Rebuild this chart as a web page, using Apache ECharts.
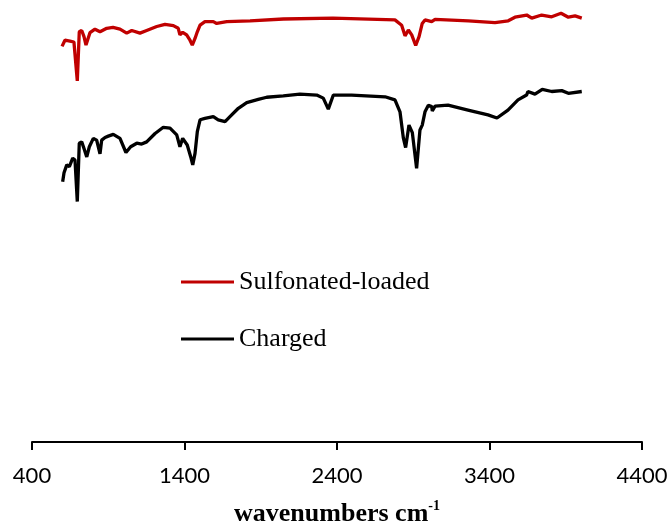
<!DOCTYPE html>
<html>
<head>
<meta charset="utf-8">
<script src="https://cdn.jsdelivr.net/npm/echarts@6/dist/echarts.min.js"></script>
<style>html,body{margin:0;padding:0;background:#fff;}#c{width:670px;height:525px;}</style>
</head>
<body>
<div id="c"></div>
<script>
// Wavenumber ticks
const tickLabels = [400, 1400, 2400, 3400, 4400];
const seriesNames = ['Sulfonated-loaded', 'Charged'];

// Sulfonated-loaded: [wavenumber cm-1, relative transmittance]
const sulfonatedWn = [597,616,649,675,697,710,726,741,754,765,780,813,846,890,931,977,1021,1054,1108,1152,1218,1272,1327,1359,1370,1388,1414,1436,1451,1469,1484,1502,1534,1589,1611,1677,1830,2048,2374,2387,2780,2824,2846,2868,2890,2916,2938,2959,2977,3021,3043,3261,3436,3523,3567,3644,3677,3742,3808,3869,3917,3961,4005];
const sulfonatedT = [89.5,90.9,90.7,90.5,81.7,92.8,93.1,91.7,89.8,90.0,92.6,93.4,92.8,93.6,93.8,93.4,92.5,93.1,92.5,93.1,94.0,94.5,94.2,93.6,92.1,92.7,92.1,90.9,89.8,91.3,92.8,94.3,95.1,95.1,94.7,95.1,95.3,95.7,95.9,95.6,95.5,94.3,91.9,93.2,92.1,89.7,91.7,94.7,95.5,95.1,95.6,95.3,94.9,95.3,96.1,96.6,95.9,96.6,96.2,97.0,96.1,96.4,95.9];

// Charged
const chargedWn = [601,610,628,645,667,682,697,710,726,741,759,776,802,824,846,857,879,900,933,977,1016,1047,1087,1119,1152,1207,1261,1305,1349,1370,1388,1418,1441,1454,1469,1484,1502,1534,1589,1621,1666,1698,1753,1808,1884,1939,2048,2157,2267,2310,2343,2376,2496,2715,2780,2813,2835,2850,2872,2894,2922,2944,2959,2977,2999,3021,3025,3043,3128,3259,3390,3449,3521,3587,3643,3652,3698,3746,3808,3874,3917,4005];
const chargedT = [58.9,60.9,62.7,62.3,64.2,63.8,54.4,67.6,67.9,66.4,64.5,66.8,68.7,68.3,65.2,68.3,68.9,69.2,69.6,68.7,65.5,66.8,67.6,67.4,67.9,69.8,71.2,71.0,69.5,66.8,68.7,67.2,64.5,62.7,65.3,70.2,72.9,73.2,73.6,72.9,72.5,73.6,75.5,76.8,77.5,78.0,78.3,78.7,78.5,77.8,75.3,78.5,78.5,78.1,77.4,74.7,68.8,66.6,71.7,70.0,61.9,70.6,71.7,74.7,76.2,75.9,74.9,76.0,76.2,75.1,74.0,73.3,75.1,77.4,78.5,79.3,78.7,79.8,79.3,79.5,78.9,79.3];

const zip = (a, b) => a.map((x, i) => [x, b[i]]);

const chart = echarts.init(document.getElementById('c'), null, {renderer: 'canvas'});
chart.setOption({
  animation: false,
  backgroundColor: '#ffffff',
  grid: {left: 32, right: 28, top: 0, bottom: 83, containLabel: false, outerBoundsMode: 'none'},
  legend: {
    orient: 'vertical',
    left: 176,
    top: 262,
    icon: 'rect',
    itemWidth: 53,
    itemHeight: 3,
    itemGap: 27,
    data: seriesNames,
    textStyle: {fontFamily: '"Liberation Serif", "Times New Roman", serif', fontSize: 26, color: '#000', lineHeight: 30}
  },
  xAxis: {
    type: 'value',
    min: 400,
    max: 4400,
    position: 'bottom',
    name: '{a|wavenumbers cm}{b|-1}',
    nameLocation: 'middle',
    nameGap: 57,
    nameTextStyle: {
      rich: {
        a: {fontFamily: '"Liberation Serif", serif', fontWeight: 'bold', fontSize: 26, color: '#000', lineHeight: 30},
        b: {fontFamily: '"Liberation Serif", serif', fontWeight: 'bold', fontSize: 14, color: '#000', lineHeight: 17, verticalAlign: 'top'}
      }
    },
    axisLine: {show: true, onZero: false, lineStyle: {color: '#000', width: 2}},
    axisTick: {show: true, inside: false, length: 8, lineStyle: {color: '#000', width: 2}, customValues: tickLabels},
    axisLabel: {fontFamily: 'Lato, sans-serif', fontSize: 22, color: '#000', margin: 23, customValues: tickLabels, formatter: v => String(v)},
    splitLine: {show: false}
  },
  yAxis: {
    type: 'value', min: 0, max: 100, show: false,
    axisLine: {show: false}, splitLine: {show: false}
  },
  series: [
    {name: seriesNames[0], type: 'line', data: zip(sulfonatedWn, sulfonatedT), showSymbol: false, symbol: 'none',
     lineStyle: {color: '#C00000', width: 3.3}, itemStyle: {color: '#C00000'}},
    {name: seriesNames[1], type: 'line', data: zip(chargedWn, chargedT), showSymbol: false, symbol: 'none',
     lineStyle: {color: '#000000', width: 3.3}, itemStyle: {color: '#000000'}}
  ]
});
</script>
</body>
</html>
